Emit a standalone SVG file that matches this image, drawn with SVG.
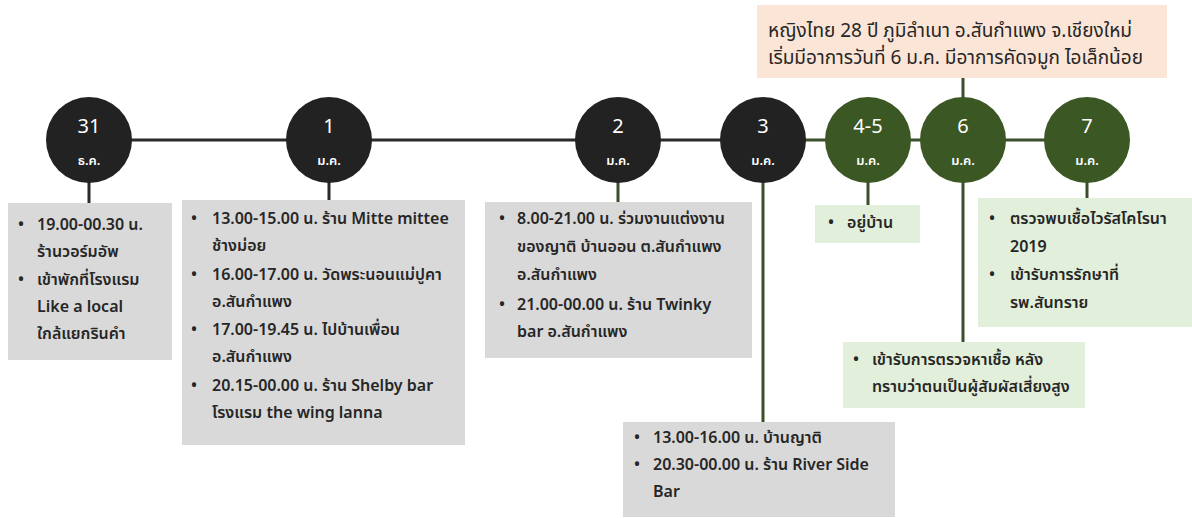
<svg xmlns="http://www.w3.org/2000/svg" width="1192" height="518" viewBox="0 0 1192 518">
<style>
.t{font-family:"Noto Sans","Noto Sans Thai","DejaVu Sans",sans-serif;fill:#262626;font-size:16px;font-weight:600}
.h{font-family:"Noto Sans","Noto Sans Thai","DejaVu Sans",sans-serif;fill:#262626;font-size:19px}
.n{font-family:"Noto Sans","Noto Sans Thai","DejaVu Sans",sans-serif;fill:#ffffff;text-anchor:middle}
.num{font-size:20px}
.mon{font-size:13px;font-weight:600}
.gray{fill:#d9d9d9}
.grn{fill:#e2efda}
.cb{fill:#222222}
.cg{fill:#3b5724}
.lk{stroke:#2b2b2b;stroke-width:3;fill:none}
.lg{stroke:#3b4f2a;stroke-width:3;fill:none}
</style>
<rect width="1192" height="518" fill="#ffffff"/>
<g id="connectors">
<line class="lk" x1="89" y1="140" x2="763" y2="140"/>
<line class="lg" x1="763" y1="140" x2="1087" y2="140"/>
<line class="lk" x1="89" y1="140" x2="89" y2="204"/>
<line class="lk" x1="329" y1="140" x2="329" y2="201"/>
<line class="lg" x1="618" y1="140" x2="618" y2="203"/>
<line class="lg" x1="763" y1="140" x2="763" y2="423"/>
<line class="lg" x1="868" y1="140" x2="868" y2="206"/>
<line class="lg" x1="963" y1="78" x2="963" y2="343"/>
<line class="lg" x1="1087" y1="140" x2="1087" y2="199"/>
</g>
<g id="header">
<rect x="757" y="5" width="410" height="73" fill="#fbe5d6"/>
<text class="h" x="768" y="37">หญิงไทย 28 ปี ภูมิลำเนา อ.สันกำแพง จ.เชียงใหม่</text>
<text class="h" x="768" y="64">เริ่มมีอาการวันที่ 6 ม.ค. มีอาการคัดจมูก ไอเล็กน้อย</text>
</g>
<g id="n31">
<circle class="cb" cx="89" cy="140" r="43"/>
<text class="n num" x="89" y="133">31</text>
<text class="n mon" x="89" y="165">ธ.ค.</text>
</g>
<g id="n1">
<circle class="cb" cx="329" cy="140" r="43"/>
<text class="n num" x="329" y="133">1</text>
<text class="n mon" x="329" y="165">ม.ค.</text>
</g>
<g id="n2">
<circle class="cb" cx="618" cy="140" r="43"/>
<text class="n num" x="618" y="133">2</text>
<text class="n mon" x="618" y="165">ม.ค.</text>
</g>
<g id="n3">
<circle class="cb" cx="763" cy="140" r="43"/>
<text class="n num" x="763" y="133">3</text>
<text class="n mon" x="763" y="165">ม.ค.</text>
</g>
<g id="n45">
<circle class="cg" cx="868" cy="140" r="43"/>
<text class="n num" x="868" y="133">4-5</text>
<text class="n mon" x="868" y="165">ม.ค.</text>
</g>
<g id="n6">
<circle class="cg" cx="963" cy="140" r="43"/>
<text class="n num" x="963" y="133">6</text>
<text class="n mon" x="963" y="165">ม.ค.</text>
</g>
<g id="n7">
<circle class="cg" cx="1087" cy="140" r="43"/>
<text class="n num" x="1087" y="133">7</text>
<text class="n mon" x="1087" y="165">ม.ค.</text>
</g>
<g id="box31">
<rect class="gray" x="8" y="203" width="164" height="157"/>
<text class="t" x="18" y="230">•</text><text class="t" x="37" y="230">19.00-00.30 น.</text>
<text class="t" x="37" y="257">ร้านวอร์มอัพ</text>
<text class="t" x="18" y="285">•</text><text class="t" x="37" y="285">เข้าพักที่โรงแรม</text>
<text class="t" x="37" y="312">Like a local</text>
<text class="t" x="37" y="339">ใกล้แยกรินคำ</text>
</g>
<g id="box1">
<rect class="gray" x="182" y="200" width="283" height="245"/>
<text class="t" x="191" y="224">•</text><text class="t" x="212" y="224">13.00-15.00 น. ร้าน Mitte mittee</text>
<text class="t" x="212" y="251">ช้างม่อย</text>
<text class="t" x="191" y="280">•</text><text class="t" x="212" y="280">16.00-17.00 น. วัดพระนอนแม่ปูคา</text>
<text class="t" x="212" y="307">อ.สันกำแพง</text>
<text class="t" x="191" y="335">•</text><text class="t" x="212" y="335">17.00-19.45 น. ไปบ้านเพื่อน</text>
<text class="t" x="212" y="362">อ.สันกำแพง</text>
<text class="t" x="191" y="391">•</text><text class="t" x="212" y="391">20.15-00.00 น. ร้าน Shelby bar</text>
<text class="t" x="212" y="418">โรงแรม the wing lanna</text>
</g>
<g id="box2">
<rect class="gray" x="485" y="202" width="267" height="156"/>
<text class="t" x="499" y="224">•</text><text class="t" x="517" y="224">8.00-21.00 น. ร่วมงานแต่งงาน</text>
<text class="t" x="517" y="252">ของญาติ บ้านออน ต.สันกำแพง</text>
<text class="t" x="517" y="280">อ.สันกำแพง</text>
<text class="t" x="499" y="310">•</text><text class="t" x="517" y="310">21.00-00.00 น. ร้าน Twinky</text>
<text class="t" x="517" y="337">bar อ.สันกำแพง</text>
</g>
<g id="box3">
<rect class="gray" x="623" y="422" width="272" height="95"/>
<text class="t" x="634" y="443">•</text><text class="t" x="653" y="443">13.00-16.00 น. บ้านญาติ</text>
<text class="t" x="634" y="470">•</text><text class="t" x="653" y="470">20.30-00.00 น. ร้าน River Side</text>
<text class="t" x="653" y="497">Bar</text>
</g>
<g id="box45">
<rect class="grn" x="815" y="205" width="105" height="38"/>
<text class="t" x="828" y="228">•</text><text class="t" x="847" y="228">อยู่บ้าน</text>
</g>
<g id="box6">
<rect class="grn" x="843" y="342" width="242" height="66"/>
<text class="t" x="853" y="365">•</text><text class="t" x="872" y="365">เข้ารับการตรวจหาเชื้อ หลัง</text>
<text class="t" x="872" y="392">ทราบว่าตนเป็นผู้สัมผัสเสี่ยงสูง</text>
</g>
<g id="box7">
<rect class="grn" x="978" y="198" width="214" height="129"/>
<text class="t" x="989" y="224">•</text><text class="t" x="1010" y="224">ตรวจพบเชื้อไวรัสโคโรนา</text>
<text class="t" x="1010" y="252">2019</text>
<text class="t" x="989" y="280">•</text><text class="t" x="1010" y="280">เข้ารับการรักษาที่</text>
<text class="t" x="1010" y="308">รพ.สันทราย</text>
</g>
</svg>
